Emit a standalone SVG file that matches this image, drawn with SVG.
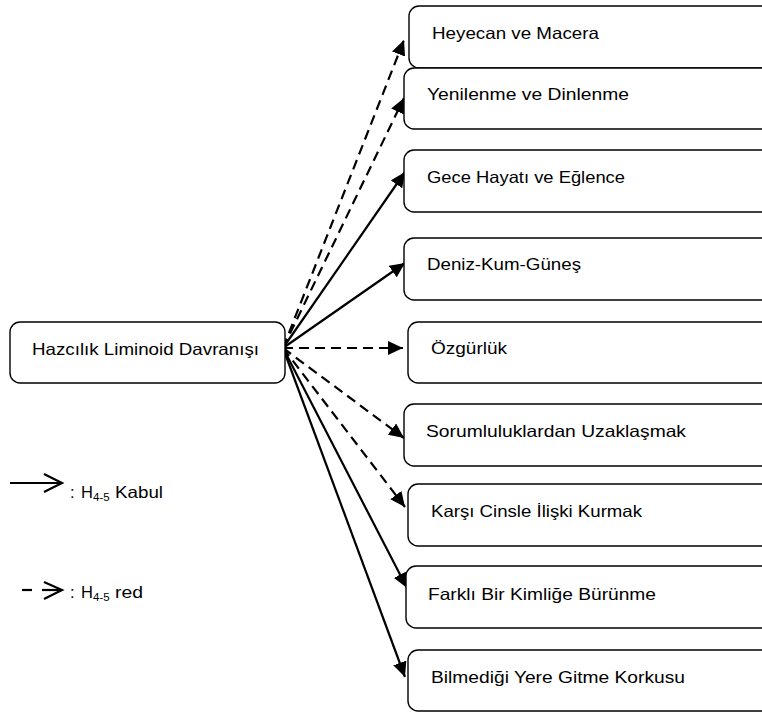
<svg xmlns="http://www.w3.org/2000/svg" width="762" height="712" viewBox="0 0 762 712">
<style>
.box{fill:#fff;stroke:#000;stroke-width:1.4}
.t{font-family:"Liberation Sans",Arial,sans-serif;font-size:16.5px;fill:#000}
.sub{font-family:"Liberation Sans",Arial,sans-serif;font-size:11.5px;fill:#000}
.c{fill:none;stroke:#000;stroke-width:2.2}
.d{stroke-dasharray:10 6}
</style>
<defs>
<marker id="ah" markerUnits="userSpaceOnUse" markerWidth="16" markerHeight="14" refX="15" refY="7" orient="auto">
<path d="M0,0 L15,7 L0,14 Z" fill="#000"/>
</marker>
</defs>
<rect width="762" height="712" fill="#fff"/>
<g id="connectors">
<line class="c d" x1="283" y1="348" x2="404" y2="40" marker-end="url(#ah)"/>
<line class="c d" x1="283" y1="348" x2="404" y2="98" marker-end="url(#ah)"/>
<line class="c" x1="283" y1="348" x2="405" y2="172" marker-end="url(#ah)"/>
<line class="c" x1="283" y1="348" x2="405" y2="263" marker-end="url(#ah)"/>
<line class="c d" x1="283" y1="348" x2="403" y2="348" marker-end="url(#ah)"/>
<line class="c d" x1="283" y1="348" x2="404" y2="438" marker-end="url(#ah)"/>
<line class="c d" x1="283" y1="348" x2="405" y2="507" marker-end="url(#ah)"/>
<line class="c" x1="283" y1="348" x2="407" y2="588" marker-end="url(#ah)"/>
<line class="c" x1="283" y1="348" x2="405" y2="677" marker-end="url(#ah)"/>
</g>
<g id="source">
<rect class="box" x="10" y="322" width="275" height="61" rx="10"/>
<text class="t" x="32" y="355" textLength="227" lengthAdjust="spacingAndGlyphs">Hazcılık Liminoid Davranışı</text>
</g>
<g id="n1">
<rect class="box" x="409" y="6" width="380" height="62" rx="10"/>
<text class="t" x="432" y="39" textLength="167" lengthAdjust="spacingAndGlyphs">Heyecan ve Macera</text>
</g>
<g id="n2">
<rect class="box" x="404" y="68" width="385" height="61" rx="10"/>
<text class="t" x="427" y="100" textLength="202" lengthAdjust="spacingAndGlyphs">Yenilenme ve Dinlenme</text>
</g>
<g id="n3">
<rect class="box" x="404" y="150" width="385" height="62" rx="10"/>
<text class="t" x="427" y="183" textLength="198" lengthAdjust="spacingAndGlyphs">Gece Hayatı ve Eğlence</text>
</g>
<g id="n4">
<rect class="box" x="404" y="238" width="385" height="62" rx="10"/>
<text class="t" x="427" y="270" textLength="154" lengthAdjust="spacingAndGlyphs">Deniz-Kum-Güneş</text>
</g>
<g id="n5">
<rect class="box" x="408" y="322" width="381" height="61" rx="10"/>
<text class="t" x="431" y="354" textLength="76" lengthAdjust="spacingAndGlyphs">Özgürlük</text>
</g>
<g id="n6">
<rect class="box" x="404" y="404" width="385" height="62" rx="10"/>
<text class="t" x="426" y="437" textLength="260" lengthAdjust="spacingAndGlyphs">Sorumluluklardan Uzaklaşmak</text>
</g>
<g id="n7">
<rect class="box" x="408" y="484" width="381" height="62" rx="10"/>
<text class="t" x="431" y="517" textLength="211" lengthAdjust="spacingAndGlyphs">Karşı Cinsle İlişki Kurmak</text>
</g>
<g id="n8">
<rect class="box" x="406" y="566" width="383" height="62" rx="10"/>
<text class="t" x="428" y="600" textLength="228" lengthAdjust="spacingAndGlyphs">Farklı Bir Kimliğe Bürünme</text>
</g>
<g id="n9">
<rect class="box" x="408" y="650" width="381" height="61" rx="10"/>
<text class="t" x="431" y="683" textLength="254" lengthAdjust="spacingAndGlyphs">Bilmediği Yere Gitme Korkusu</text>
</g>
<g id="legend">
<line x1="10" y1="483" x2="61" y2="483" stroke="#000" stroke-width="2.2"/>
<path d="M44,474 L62,483 L44,492" fill="none" stroke="#000" stroke-width="2.2"/>
<text class="t" x="70" y="498">:</text>
<text class="t" x="81" y="498">H</text>
<text class="sub" x="93" y="501">4-5</text>
<text class="t" x="115" y="498" textLength="48" lengthAdjust="spacingAndGlyphs">Kabul</text>
<line x1="22" y1="590" x2="32" y2="590" stroke="#000" stroke-width="2.2"/>
<line x1="42" y1="590" x2="61" y2="590" stroke="#000" stroke-width="2.2"/>
<path d="M44,582 L62,590 L44,599" fill="none" stroke="#000" stroke-width="2.2"/>
<text class="t" x="70" y="598">:</text>
<text class="t" x="81" y="598">H</text>
<text class="sub" x="93" y="601">4-5</text>
<text class="t" x="115" y="598" textLength="28" lengthAdjust="spacingAndGlyphs">red</text>
</g>
</svg>
